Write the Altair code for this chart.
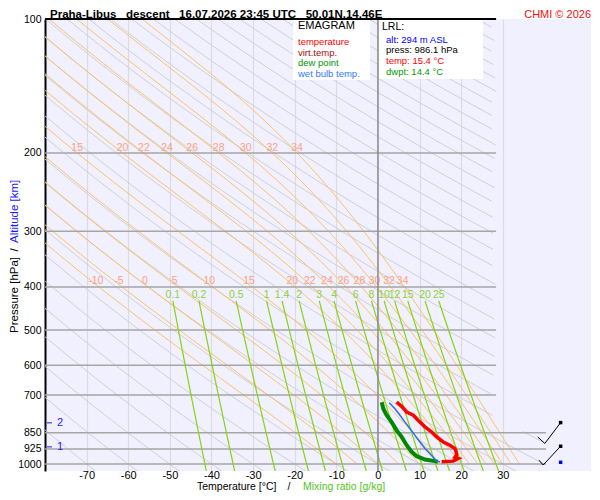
import numpy as np
import pandas as pd
import altair as alt

FONT = "Liberation Sans"

# ---------------- texts ----------------
TITLE = "Praha-Libus\u00a0\u00a0\u00a0descent\u00a0\u00a0\u00a016.07.2026 23:45 UTC\u00a0\u00a0\u00a050.01N,14.46E"
CREDIT = "CHMI \u00a9 2026"
LEGEND_HEAD = "EMAGRAM"
LEGEND_ITEMS = ["temperature", "virt.temp.", "dew point", "wet bulb temp."]
LEGEND_COLORS = ["#ff0000", "#a01010", "#009900", "#3377ff"]
LRL_HEAD = "LRL:"
LRL_ITEMS = ["alt: 294 m ASL", "press: 986.1 hPa", "temp: 15.4 \u00b0C", "dwpt: 14.4 \u00b0C"]
LRL_COLORS = ["#0000ff", "#000000", "#ff0000", "#009900"]
X_TITLE_A = "Temperature [\u00b0C]"
X_TITLE_B = "Mixing ratio [g/kg]"
Y_TITLE_A = "Pressure [hPa]"
Y_TITLE_B = "Altitude [km]"

# ---------------- axes ----------------
P_TICKS = [100, 200, 300, 400, 500, 600, 700, 850, 925, 1000]
T_TICKS = [-70, -60, -50, -40, -30, -20, -10, 0, 10, 20, 30]
ISOBARS_UPPER = [200, 300, 400, 500, 600, 700]
ISOBARS_LOWER = [850, 925, 1000]

# ---------------- diagram line families ----------------
DRY_THETA_C = list(range(-70, 320, 10))
MOIST_THW_C = [-10, -5, 0, 5, 10, 15, 20, 22, 24, 26, 28, 30, 32, 34]
MOIST_LABELS_200 = [15, 20, 22, 24, 26, 28, 30, 32, 34]
MIX_RATIO = [0.1, 0.2, 0.5, 1, 1.4, 2, 3, 4, 6, 8, 10, 12, 15, 20, 25]
MIX_LABELS = ["0.1", "0.2", "0.5", "1", "1.4", "2", "3", "4", "6", "8", "10", "12", "15", "20", "25"]

# ---------------- sounding ----------------
TEMP_P = [726, 742, 764, 777, 798, 825, 847, 869, 892, 907, 923, 939, 955, 966, 971, 985, 988]
TEMP_T = [4.5, 5.7, 6.9, 8.5, 9.7, 11.3, 12.9, 14.1, 15.7, 17.3, 18.5, 18.8, 18.9, 18.5, 19.3, 18.1, 15.3]
DEW_P = [726, 751, 777, 805, 840, 869, 907, 939, 960, 977, 985, 988]
DEW_T = [0.9, 1.3, 2.1, 3.3, 4.5, 5.7, 6.9, 8.1, 9.3, 11.3, 13.7, 14.4]
WB_P = [728, 751, 777, 805, 832, 862, 892, 923, 948, 971, 985, 988]
WB_T = [2.7, 4.1, 5.3, 6.5, 7.7, 8.9, 10.1, 11.3, 12.5, 13.5, 14.1, 14.9]

# altitude markers (km) on the pressure axis
ALT_KM = ["1", "2"]
ALT_P = [915, 808]

# wind barbs
BARB_LEVEL = ["850", "850", "850", "925", "925", "925"]
BARB_T = [38.4, 40.1, 43.9, 38.7, 39.7, 43.9]
BARB_P = [869, 899, 807, 980, 1005, 912]
STATION_T = [43.9, 43.9]
STATION_P = [807, 912]
SURF_T = [43.9]
SURF_P = [991]

ONE = pd.DataFrame({"d": [0]})

# ---------------- scales / axes ----------------
P_BOTTOM = 1036.6
xs = alt.Scale(domain=[-80, 51.2], nice=False, zero=False)
ys = alt.Scale(type="log", domain=[100, P_BOTTOM], reverse=True, nice=False)
xax = alt.Axis(values=T_TICKS, title=None, grid=True, gridColor="#dcdcdc", gridWidth=1.2,
               domain=False, ticks=False, tickSize=0, labelPadding=-2, labelFontSize=11,
               labelColor="black", labelFont=FONT, labelExpr="'' + datum.value",
               labelOverlap=False)
yax = alt.Axis(values=P_TICKS, title=None, grid=False, domain=True, domainColor="black",
               domainWidth=2, ticks=False, tickSize=0, labelPadding=4, labelFontSize=10.5,
               labelColor="black", labelFont=FONT, labelExpr="'' + datum.value",
               labelOverlap=False)


def X(f="T"):
    return alt.X(f"{f}:Q", scale=xs, axis=xax)


def Y(f="p"):
    return alt.Y(f"{f}:Q", scale=ys, axis=yax)


# ---------------- build background curves ----------------
def dry_df():
    pg = np.geomspace(100, 1040, 170)
    rows = []
    for th in DRY_THETA_C:
        T = (th + 273.15) * (pg / 1000.0) ** 0.2857 - 273.15
        ok = (T <= np.where(pg < 840, 28.4, 40.4)) & (T >= -90)
        seg, prev = 0, False
        for i in range(len(pg)):
            if ok[i]:
                if not prev:
                    seg += 1
                rows.append((f"{th}_{seg}", i, T[i], pg[i]))
            prev = ok[i]
    return pd.DataFrame(rows, columns=["k", "i", "T", "p"])


def moist_curve(thw):
    Rd, Cp, Lv, eps = 287.04, 1005.7, 2.501e6, 0.622

    def f(T, lnp):
        p = np.exp(lnp)
        tc = T - 273.15
        es = 6.112 * np.exp(17.67 * tc / (tc + 243.5))
        rs = eps * es / (p - es)
        return (Rd * T + Lv * rs) / (Cp + Lv * Lv * rs * eps / (Rd * T * T))

    lnps = np.linspace(np.log(1000.0), np.log(100.0), 181)
    T = thw + 273.15
    Ts = [T]
    for a, b in zip(lnps[:-1], lnps[1:]):
        h = b - a
        k1 = f(T, a)
        k2 = f(T + h * k1 / 2, a + h / 2)
        k3 = f(T + h * k2 / 2, a + h / 2)
        k4 = f(T + h * k3, b)
        T = T + h * (k1 + 2 * k2 + 2 * k3 + k4) / 6
        Ts.append(T)
    return np.exp(lnps), np.array(Ts) - 273.15


def mix_curve(w):
    pg = np.geomspace(430, 1040, 40)
    e = w * pg / (622.0 + w)
    g = np.log(e / 6.112)
    return pg, 243.5 * g / (17.67 - g)


moist_rows, moist_lab = [], []
for thw in MOIST_THW_C:
    pp, tt = moist_curve(thw)
    for i, (a, b) in enumerate(zip(pp, tt)):
        moist_rows.append((str(thw), i, b, a))
    moist_lab.append((str(thw), float(np.interp(395, pp[::-1], tt[::-1])), 388))
    if thw in MOIST_LABELS_200:
        moist_lab.append((str(thw), float(np.interp(200, pp[::-1], tt[::-1])), 195))
moist_df = pd.DataFrame(moist_rows, columns=["k", "i", "T", "p"])
moist_lab_df = pd.DataFrame(moist_lab, columns=["lab", "T", "p"])

mix_rows, mix_lab = [], []
for w, lab in zip(MIX_RATIO, MIX_LABELS):
    pp, tt = mix_curve(w)
    for i, (a, b) in enumerate(zip(pp, tt)):
        mix_rows.append((lab, i, b, a))
    mix_lab.append((lab, tt[0], 417))
mix_df = pd.DataFrame(mix_rows, columns=["k", "i", "T", "p"])
mix_lab_df = pd.DataFrame(mix_lab, columns=["lab", "T", "p"])


def curve(Ts, Ps):
    return pd.DataFrame({"T": Ts, "p": Ps, "i": list(range(len(Ts)))})


def txt(s, x, y, color="black", size=10.5, weight="normal", align="left", angle=None,
        baseline="middle"):
    kw = dict(align=align, baseline=baseline, fontSize=size, fontWeight=weight,
              color=color, font=FONT, text=s)
    if angle is not None:
        kw["angle"] = angle
    return alt.Chart(ONE).mark_text(**kw).encode(x=alt.value(x), y=alt.value(y))


layers = []

# dry adiabats
layers.append(alt.Chart(dry_df()).mark_line(clip=True, strokeWidth=1, color="#d0d0d0").encode(
    x=X(), y=Y(), detail="k:N", order=alt.Order("i:Q")))
# moist adiabats
layers.append(alt.Chart(moist_df).mark_line(clip=True, strokeWidth=1, color="#ffc064").encode(
    x=X(), y=Y(), detail="k:N", order=alt.Order("i:Q")))
# isobars
iso_u = pd.DataFrame({"p": ISOBARS_UPPER, "T0": -80.0, "T1": 28.4})
iso_l = pd.DataFrame({"p": ISOBARS_LOWER, "T0": -80.0, "T1": 40.4})
for d in (iso_u, iso_l):
    layers.append(alt.Chart(d).mark_rule(color="#a6a6a6", strokeWidth=1.5).encode(
        x=X("T0"), x2=alt.X2("T1"), y=Y()))
# mixing ratio lines
layers.append(alt.Chart(mix_df).mark_line(clip=True, strokeWidth=1.2, color="#86d40e").encode(
    x=X(), y=Y(), detail="k:N", order=alt.Order("i:Q")))
# labels
layers.append(alt.Chart(moist_lab_df).mark_text(font=FONT, fontSize=10.5, color="#ffa080",
                                                baseline="middle", align="center").encode(
    x=X(), y=Y(), text="lab:N"))
layers.append(alt.Chart(mix_lab_df).mark_text(font=FONT, fontSize=10.5, color="#8fd13a",
                                              baseline="middle", align="center").encode(
    x=X(), y=Y(), text="lab:N"))

# sounding
layers.append(alt.Chart(curve(DEW_T, DEW_P)).mark_line(strokeWidth=4, color="#008800").encode(
    x=X(), y=Y(), order=alt.Order("i:Q")))
layers.append(alt.Chart(curve(WB_T, WB_P)).mark_line(strokeWidth=1.5, color="#2a6ef0").encode(
    x=X(), y=Y(), order=alt.Order("i:Q")))
layers.append(alt.Chart(curve(TEMP_T, TEMP_P)).mark_line(strokeWidth=3.5, color="#ff0000").encode(
    x=X(), y=Y(), order=alt.Order("i:Q")))

# wind barbs
barb_df = pd.DataFrame({"T": BARB_T, "p": BARB_P, "lev": BARB_LEVEL, "i": list(range(len(BARB_T)))})
layers.append(alt.Chart(barb_df).mark_line(strokeWidth=1, color="black").encode(
    x=X(), y=Y(), detail="lev:N", order=alt.Order("i:Q")))
layers.append(alt.Chart(pd.DataFrame({"T": STATION_T, "p": STATION_P})).mark_square(
    size=12, color="black", opacity=1).encode(x=X(), y=Y()))
layers.append(alt.Chart(pd.DataFrame({"T": SURF_T, "p": SURF_P})).mark_square(
    size=12, color="#0000ff", opacity=1).encode(x=X(), y=Y()))

# altitude markers
alt_df = pd.DataFrame({"p": ALT_P, "km": ALT_KM})
layers.append(alt.Chart(alt_df).mark_rule(color="#1a1aff", strokeWidth=1).encode(
    x=alt.value(2), x2=alt.value(7), y=Y()))
layers.append(alt.Chart(alt_df).mark_text(font=FONT, fontSize=11, color="#1a1aff",
                                          align="left", baseline="middle").encode(
    x=alt.value(12), y=Y(), text="km:N"))

# info boxes
layers.append(alt.Chart(ONE).mark_rect(color="white").encode(
    x=alt.value(248), x2=alt.value(325), y=alt.value(0), y2=alt.value(61)))
layers.append(alt.Chart(ONE).mark_rect(color="white").encode(
    x=alt.value(334), x2=alt.value(438), y=alt.value(0), y2=alt.value(60)))

# 0 °C line and top border
layers.append(alt.Chart(pd.DataFrame({"T": [0]})).mark_rule(color="#8c8c8c", strokeWidth=1.5).encode(
    x=X()))
layers.append(alt.Chart(pd.DataFrame({"p": [100], "T0": [-80.0], "T1": [28.4]})).mark_rule(
    color="black", strokeWidth=2).encode(x=X("T0"), x2=alt.X2("T1"), y=Y()))

# texts
ROW = 10.7
layers.append(txt(TITLE, 5, -1.5, size=11.5, weight="bold", baseline="alphabetic"))
layers.append(txt(CREDIT, 546, -1.5, color="#ee1111", size=11, align="right", baseline="alphabetic"))
layers.append(txt(LEGEND_HEAD, 253, 7, size=11))
for k, (s, c) in enumerate(zip(LEGEND_ITEMS, LEGEND_COLORS)):
    layers.append(txt(s, 253, 22.8 + ROW * k, color=c, size=9.5))
layers.append(txt(LRL_HEAD, 337, 7.5, size=10.5))
for k, (s, c) in enumerate(zip(LRL_ITEMS, LRL_COLORS)):
    layers.append(txt(s, 341, 20.6 + ROW * k, color=c, size=9.5))
layers.append(txt(X_TITLE_A, 152, 470.8, size=10.5, baseline="alphabetic"))
layers.append(txt("/", 244, 470.8, size=10.5, align="center", baseline="alphabetic"))
layers.append(txt(X_TITLE_B, 258, 470.8, color="#55c41e", size=10.5, baseline="alphabetic"))
layers.append(txt(Y_TITLE_A, -30, 314, size=11.5, angle=270))
layers.append(txt("/", -30, 231, size=11.5, align="center", angle=270))
layers.append(txt(Y_TITLE_B, -30, 224, color="#1a1aff", size=11.5, angle=270))

chart = alt.layer(*layers).properties(
    width=546, height=452,
    padding={"left": 37, "top": 11, "right": 1, "bottom": 21},
    autosize=alt.AutoSizeParams(type="none"),
    background="white",
).configure_view(fill="#f0f0ff", strokeWidth=0)

chart.save("out.html", embed_options={"renderer": "svg", "actions": False})
